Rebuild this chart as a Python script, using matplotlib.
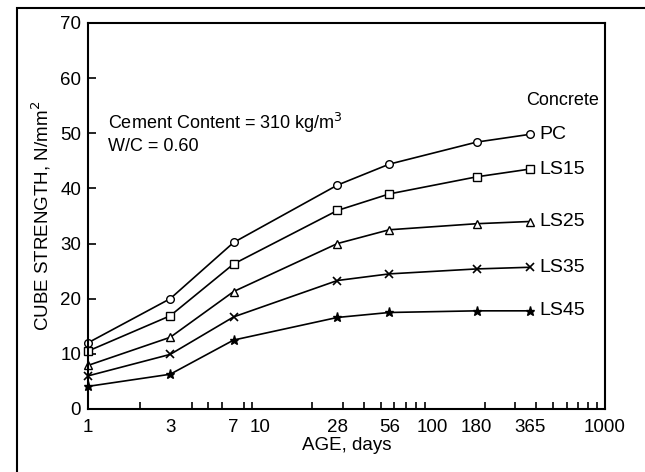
import numpy as np
import matplotlib
matplotlib.use('Agg')
import matplotlib.pyplot as plt
from matplotlib.ticker import LogLocator, NullFormatter, FixedLocator, FixedFormatter
from matplotlib.patches import Rectangle

plt.rcParams['font.family'] = ['Liberation Sans', 'DejaVu Sans']

# ages in days
edad = [1, 3, 7, 28, 56, 180, 365]

# cube strength, N/mm2
pc = [12.0, 20.0, 30.2, 40.6, 44.4, 48.4, 49.8]
ls15 = [10.5, 16.9, 26.3, 36.0, 39.0, 42.1, 43.5]
ls25 = [7.9, 13.0, 21.3, 30.0, 32.5, 33.6, 34.0]
ls35 = [6.0, 9.9, 16.7, 23.3, 24.5, 25.4, 25.7]
ls45 = [4.1, 6.3, 12.5, 16.6, 17.5, 17.8, 17.8]

series = ['PC', 'LS15', 'LS25', 'LS35', 'LS45']
valores = [pc, ls15, ls25, ls35, ls45]
marcadores = ['o', 's', '^', 'x', '*']

xticks = [1, 3, 7, 10, 28, 56, 100, 180, 365, 1000]
yticks = [0, 10, 20, 30, 40, 50, 60, 70]

fig = plt.figure(figsize=(6.45, 4.72), dpi=100)
ax = fig.add_axes([0.1364, 0.1335, 0.8016, 0.8178])

# marco alrededor de la figura
fig.patches.append(Rectangle((0.026, -0.05), 1.05, 1.033, transform=fig.transFigure,
                             fill=False, edgecolor='black', linewidth=1.5))

for nombre, vals, m in zip(series, valores, marcadores):
    if m == '*':
        ax.plot(edad, vals, color='black', lw=1.2, marker=m, ms=6.5,
                mfc='black', mec='black', clip_on=False)
    elif m == 'x':
        ax.plot(edad, vals, color='black', lw=1.2, marker=m, ms=6,
                mew=1.2, clip_on=False)
    else:
        ax.plot(edad, vals, color='black', lw=1.2, marker=m, ms=5.5,
                mfc='white', mec='black', mew=1.0, clip_on=False)
    ax.annotate(nombre, (edad[-1], vals[-1]), xytext=(7, 0), textcoords='offset points',
                va='center', ha='left', fontsize=14)

ax.set_xscale('log')
ax.set_xlim(1, 1000)
ax.set_ylim(0, 70)

ax.xaxis.set_major_locator(FixedLocator(xticks))
ax.xaxis.set_major_formatter(FixedFormatter([str(t) for t in xticks]))
ax.xaxis.set_minor_locator(LogLocator(base=10, subs=np.arange(2, 10)))
ax.xaxis.set_minor_formatter(NullFormatter())
ax.set_yticks(yticks)

ax.tick_params(axis='x', which='major', direction='in', length=0, labelsize=13.5, pad=7)
ax.tick_params(axis='x', which='minor', direction='in', length=5, width=1.2)
ax.tick_params(axis='y', which='major', direction='in', length=6, width=1.2, labelsize=13.5, pad=5)
for s in ax.spines.values():
    s.set_linewidth(1.5)

ax.set_xlabel('AGE, days', fontsize=13.5, labelpad=1)
ax.set_ylabel('CUBE STRENGTH, N/mm$^2$', fontsize=13.5, labelpad=5)

ax.text(0.039, 0.741, 'Cement Content = 310 kg/m$^3$', transform=ax.transAxes,
        fontsize=13, va='center', ha='left')
ax.text(0.039, 0.681, 'W/C = 0.60', transform=ax.transAxes,
        fontsize=13, va='center', ha='left')
ax.text(0.847, 0.798, 'Concrete', transform=ax.transAxes,
        fontsize=13, va='center', ha='left')

fig.savefig('out.png', dpi=100)
